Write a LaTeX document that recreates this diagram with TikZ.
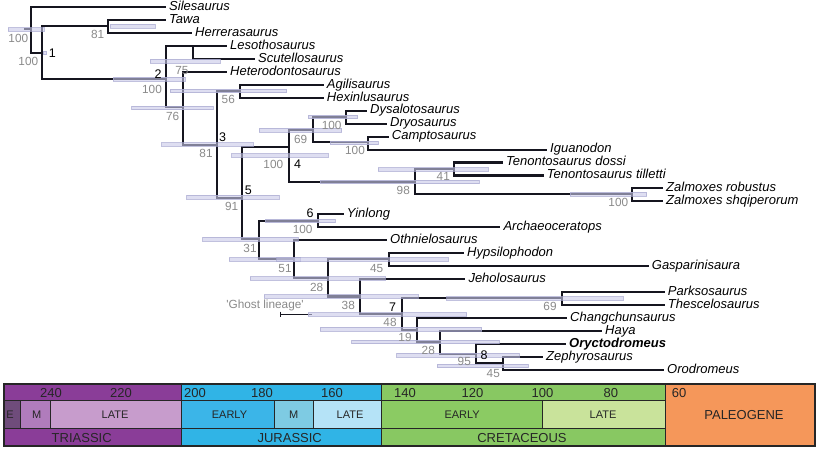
\documentclass[tikz,border=0pt]{standalone}
\usepackage{fontspec}
\setmainfont{Liberation Sans}
\definecolor{trimain}{HTML}{8A3D98}
\definecolor{triE}{HTML}{6F4C7B}
\definecolor{triM}{HTML}{B07CBC}
\definecolor{triL}{HTML}{C79CCC}
\definecolor{jurmain}{HTML}{30B4E6}
\definecolor{jurE}{HTML}{3BB5E8}
\definecolor{jurM}{HTML}{7ECBE3}
\definecolor{jurL}{HTML}{B5E3F7}
\definecolor{cremain}{HTML}{88C862}
\definecolor{creE}{HTML}{8BCB63}
\definecolor{creL}{HTML}{C9E39B}
\definecolor{paleo}{HTML}{F5975A}
\definecolor{supgray}{HTML}{8A8A8A}
\definecolor{barfill}{HTML}{C8C8E8}
\definecolor{bardraw}{HTML}{A8A8D0}
\definecolor{treeline}{HTML}{15151F}
\newcommand{\ebar}[3]{\path[barst] (#2,#1-1.8) rectangle (#3,#1+1.8);}
\begin{document}
\begin{tikzpicture}[x=1pt,y=-1pt,
  br/.style={line width=2.1pt, draw=treeline, line cap=rect},
  tip/.style={anchor=west, inner xsep=4pt, inner ysep=0pt, text height=6.6pt, text depth=0pt, font=\fontsize{13}{13}\selectfont\itshape},
  supl/.style={text=supgray, font=\fontsize{11.8}{11.8}\selectfont, inner sep=0pt},
  nnum/.style={text=black, font=\fontsize{12.5}{12.5}\selectfont, inner sep=0pt},
  barst/.style={fill=barfill, fill opacity=0.6, draw=bardraw, draw opacity=0.7, line width=0.45pt},
  tsline/.style={draw=black!85, line width=1pt},
  tsbig/.style={font=\fontsize{13}{13}\selectfont, inner sep=0pt, text=black!85},
  tssmall/.style={font=\fontsize{11}{11}\selectfont, inner sep=0pt, text=black!85}
]
\useasboundingbox[fill=white] (0,0) rectangle (820,451);

% ---------- tips ----------
\node[tip] (sil)   at (165,7.0)    {Silesaurus};
\node[tip] (tawa)  at (165,19.96)  {Tawa};
\node[tip] (herr)  at (191,32.92)  {Herrerasaurus};
\node[tip] (leso)  at (226,45.88)  {Lesothosaurus};
\node[tip] (scut)  at (254,58.84)  {Scutellosaurus};
\node[tip] (het)   at (226,71.8)   {Heterodontosaurus};
\node[tip] (agil)  at (322.7,84.76) {Agilisaurus};
\node[tip] (hex)   at (322.7,97.72) {Hexinlusaurus};
\node[tip] (dys)   at (366,110.68) {Dysalotosaurus};
\node[tip] (dry)   at (386,123.64) {Dryosaurus};
\node[tip] (camp)  at (387.7,136.6) {Camptosaurus};
\node[tip] (igu)   at (546,149.56) {Iguanodon};
\node[tip] (tdos)  at (502,162.52) {Tenontosaurus dossi};
\node[tip] (ttil)  at (542.7,175.48) {Tenontosaurus tilletti};
\node[tip] (zrob)  at (662,188.44) {Zalmoxes robustus};
\node[tip] (zshq)  at (662,201.4)  {Zalmoxes shqiperorum};
\node[tip] (yin)   at (342.7,214.36) {Yinlong};
\node[tip] (arch)  at (499.3,227.32) {Archaeoceratops};
\node[tip] (othn)  at (386,240.28) {Othnielosaurus};
\node[tip] (hyps)  at (463,253.24) {Hypsilophodon};
\node[tip] (gasp)  at (647.7,266.2) {Gasparinisaura};
\node[tip] (jeh)   at (464.3,279.16) {Jeholosaurus};
\node[tip] (parks) at (663.7,292.12) {Parksosaurus};
\node[tip] (thes)  at (663.7,305.08) {Thescelosaurus};
\node[tip] (chang) at (566,318.04) {Changchunsaurus};
\node[tip] (haya)  at (601,331.0)  {Haya};
\node[tip, font=\fontsize{13}{13}\selectfont\itshape\bfseries] (oryc) at (565,343.96) {Oryctodromeus};
\node[tip] (zeph)  at (542,356.92) {Zephyrosaurus};
\node[tip] (orod)  at (663,369.88) {Orodromeus};

% ---------- internal nodes ----------
\coordinate (R0) at (25,29.3);
\coordinate (R)  at (31,29.3);
\coordinate (N1) at (41.7,52.7);
\coordinate (TH) at (108.3,26);
\coordinate (N2) at (166,79);
\coordinate (LS) at (193,45.88);
\coordinate (A)  at (183.3,107);
\coordinate (N3) at (216.7,145);
\coordinate (AH) at (240,90.7);
\coordinate (N5) at (241.7,198.3);
\coordinate (N4) at (289.3,146.7);
\coordinate (H)  at (312.7,130);
\coordinate (DD) at (346,116.7);
\coordinate (CI) at (368.3,141.7);
\coordinate (I)  at (415,181.7);
\coordinate (TT) at (454,169.3);
\coordinate (ZZ) at (631.7,194);
\coordinate (B)  at (259.3,239);
\coordinate (N6) at (318.3,220.7);
\coordinate (C)  at (294.3,259.3);
\coordinate (D)  at (327.7,278.3);
\coordinate (HG) at (389.3,259.3);
\coordinate (E)  at (360,296.5);
\coordinate (N7) at (402,313.8);
\coordinate (PT) at (561.7,298.3);
\coordinate (F)  at (417.3,330);
\coordinate (G)  at (440,341.7);
\coordinate (N8) at (476,354.3);
\coordinate (ZO) at (503.3,363.3);

% ---------- branches ----------
\draw[br] (R0) -- (R);
\draw[br] (R) |- (sil.west);  \draw[br] (R) |- (N1);
\draw[br] (N1) |- (TH);       \draw[br] (N1) |- (N2);
\draw[br] (TH) |- (tawa.west); \draw[br] (TH) |- (herr.west);
\draw[br] (N2) |- (LS);       \draw[br] (N2) |- (A);
\draw[br] (LS) |- (leso.west); \draw[br] (LS) |- (scut.west);
\draw[br] (A) |- (het.west);  \draw[br] (A) |- (N3);
\draw[br] (N3) |- (AH);       \draw[br] (N3) |- (N5);
\draw[br] (AH) |- (agil.west); \draw[br] (AH) |- (hex.west);
\draw[br] (N5) |- (N4);       \draw[br] (N5) |- (B);
\draw[br] (N4) |- (H);        \draw[br] (N4) |- (I);
\draw[br] (H) |- (DD);        \draw[br] (H) |- (CI);
\draw[br] (DD) |- (dys.west); \draw[br] (DD) |- (dry.west);
\draw[br] (CI) |- (camp.west); \draw[br] (CI) |- (igu.west);
\draw[br] (I) |- (TT);        \draw[br] (I) |- (ZZ);
\draw[br] (TT) |- (tdos.west); \draw[br] (TT) |- (ttil.west);
\draw[br] (ZZ) |- (zrob.west); \draw[br] (ZZ) |- (zshq.west);
\draw[br] (B) |- (N6);        \draw[br] (B) |- (C);
\draw[br] (N6) |- (yin.west); \draw[br] (N6) |- (arch.west);
\draw[br] (C) |- (othn.west); \draw[br] (C) |- (D);
\draw[br] (D) |- (HG);        \draw[br] (D) |- (E);
\draw[br] (HG) |- (hyps.west); \draw[br] (HG) |- (gasp.west);
\draw[br] (E) |- (jeh.west);  \draw[br] (E) |- (N7);
\draw[br] (N7) |- (PT);       \draw[br] (N7) |- (F);
\draw[br] (PT) |- (parks.west); \draw[br] (PT) |- (thes.west);
\draw[br] (F) |- (chang.west); \draw[br] (F) |- (G);
\draw[br] (G) |- (haya.west); \draw[br] (G) |- (N8);
\draw[br] (N8) |- (oryc.west); \draw[br] (N8) |- (ZO);
\draw[br] (ZO) |- (zeph.west); \draw[br] (ZO) |- (orod.west);

% ---------- ghost lineage ----------
\coordinate (g1) at (280,314.3);
\coordinate (g2) at (312,314.3);
\draw[treeline, line width=0.8pt] (g1) -- (g2);
\draw[treeline, line width=0.8pt] (280,311.6) -- (280,317);

% ---------- age bars ----------
\ebar{29.3}{8.3}{44}
\ebar{52.7}{43}{46.5}
\ebar{26}{110}{155}
\ebar{79}{113}{185}
\ebar{61}{150}{220}
\ebar{107.7}{131.7}{213.3}
\ebar{90.7}{170}{286.7}
\ebar{144.3}{161.7}{253.3}
\ebar{197}{186.7}{279}
\ebar{155.5}{231.7}{328.3}
\ebar{130}{259.3}{341.7}
\ebar{116.7}{308.3}{357.7}
\ebar{142.7}{330}{378.3}
\ebar{181.7}{320}{479.3}
\ebar{169.3}{378.3}{488.3}
\ebar{194}{570}{646.7}
\ebar{239}{202.7}{298.3}
\ebar{220.7}{265}{335}
\ebar{259.3}{229.3}{300}
\ebar{278.3}{250}{385}
\ebar{259.3}{276.7}{448.3}
\ebar{296.3}{264}{418.3}
\ebar{314.3}{308.3}{466.7}
\ebar{298.3}{446.7}{623.3}
\ebar{329}{320}{481.7}
\ebar{341.7}{351.7}{499.3}
\ebar{355}{396.7}{519.3}
\ebar{365.7}{437.3}{528.3}

% ---------- support values ----------
\node[supl] (s0)  at (18.3,38.3) {100};
\node[supl] (s1)  at (28.3,61.7) {100};
\node[supl] (s2)  at (97.7,34.3) {81};
\node[supl] (s3)  at (152,89) {100};
\node[supl] (s4)  at (182,70) {75};
\node[supl] (s5)  at (172.7,116.7) {76};
\node[supl] (s6)  at (228.3,99.3) {56};
\node[supl] (s7)  at (206,153.3) {81};
\node[supl] (s8)  at (231.7,206.7) {91};
\node[supl] (s9)  at (273.3,164.3) {100};
\node[supl] (s10) at (300.7,139) {69};
\node[supl] (s11) at (331.7,125) {100};
\node[supl] (s12) at (355,150.7) {100};
\node[supl] (s13) at (403.3,190) {98};
\node[supl] (s14) at (443.3,176) {41};
\node[supl] (s15) at (618.3,202.7) {100};
\node[supl] (s16) at (250,248.3) {31};
\node[supl] (s17) at (302.7,229.3) {100};
\node[supl] (s18) at (285,268.3) {51};
\node[supl] (s19) at (316.7,287.3) {28};
\node[supl] (s20) at (376.7,268.3) {45};
\node[supl] (s21) at (348.3,305) {38};
\node[supl] (s22) at (390,322.3) {48};
\node[supl] (s23) at (550,306.7) {69};
\node[supl] (s24) at (405,337.7) {19};
\node[supl] (s25) at (428.3,350) {28};
\node[supl] (s26) at (464.3,361.7) {95};
\node[supl] (s27) at (493.3,373.3) {45};
\node[supl] (ghost) at (265,305) {\textquotesingle Ghost lineage\textquotesingle};

% ---------- node numbers ----------
\node[nnum] (n1) at (52.3,52.7) {1};
\node[nnum] (n2) at (158,74) {2};
\node[nnum] (n3) at (222.7,137.3) {3};
\node[nnum] (n4) at (297.7,164.3) {4};
\node[nnum] (n5) at (248.3,190) {5};
\node[nnum] (n6) at (310,213.3) {6};
\node[nnum] (n7) at (392.7,306.7) {7};
\node[nnum] (n8) at (484,355) {8};

% ---------- time scale ----------
\path[fill=trimain] (4,384) rectangle (181.7,400);
\path[fill=triE] (4,400) rectangle (20.7,428.3);
\path[fill=triM] (20.7,400) rectangle (50,428.3);
\path[fill=triL] (50,400) rectangle (181.7,428.3);
\path[fill=trimain] (4,428.3) rectangle (181.7,446);
\path[fill=jurmain] (181.7,384) rectangle (381.7,400);
\path[fill=jurE] (181.7,400) rectangle (274,428.3);
\path[fill=jurM] (274,400) rectangle (313.3,428.3);
\path[fill=jurL] (313.3,400) rectangle (381.7,428.3);
\path[fill=jurmain] (181.7,428.3) rectangle (381.7,446);
\path[fill=cremain] (381.7,384) rectangle (665,400);
\path[fill=creE] (381.7,400) rectangle (542.7,428.3);
\path[fill=creL] (542.7,400) rectangle (665,428.3);
\path[fill=cremain] (381.7,428.3) rectangle (665,446);
\path[fill=paleo] (665,384) rectangle (815,446);
\draw[tsline] (4,400) -- (665,400);
\draw[tsline] (4,428.3) -- (665,428.3);
\draw[tsline] (181.7,384) -- (181.7,446);
\draw[tsline] (381.7,384) -- (381.7,446);
\draw[tsline] (665,384) -- (665,446);
\draw[tsline] (20.7,400) -- (20.7,428.3);
\draw[tsline] (50,400) -- (50,428.3);
\draw[tsline] (274,400) -- (274,428.3);
\draw[tsline] (313.3,400) -- (313.3,428.3);
\draw[tsline] (542.7,400) -- (542.7,428.3);
\draw[draw=black!85, line width=1.3pt] (4,384) rectangle (815,446);

\node[tsbig] (a240) at (51,393) {240};
\node[tsbig] (a220) at (121,393) {220};
\node[tsbig] (a200) at (195,393) {200};
\node[tsbig] (a180) at (262,393) {180};
\node[tsbig] (a160) at (332,393) {160};
\node[tsbig] (a140) at (405,393) {140};
\node[tsbig] (a120) at (472.5,393) {120};
\node[tsbig] (a100) at (542.5,393) {100};
\node[tsbig] (a80) at (610.8,393) {80};
\node[tsbig] (a60) at (679,393) {60};

\node[tssmall] (tE) at (10,414.5) {E};
\node[tssmall] (tM) at (36.7,414.5) {M};
\node[tssmall] (tL) at (115,414.5) {LATE};
\node[tssmall] (jE) at (229.5,414.5) {EARLY};
\node[tssmall] (jM) at (293.7,414.5) {M};
\node[tssmall] (jL) at (350,414.5) {LATE};
\node[tssmall] (cE) at (462.2,414.5) {EARLY};
\node[tssmall] (cL) at (603,414.5) {LATE};
\node[tsbig] (pal) at (744,415) {PALEOGENE};

\node[tsbig] (tri) at (81.7,438.5) {TRIASSIC};
\node[tsbig] (jur) at (289.7,438.5) {JURASSIC};
\node[tsbig] (cre) at (522,438.5) {CRETACEOUS};
\end{tikzpicture}
\end{document}
